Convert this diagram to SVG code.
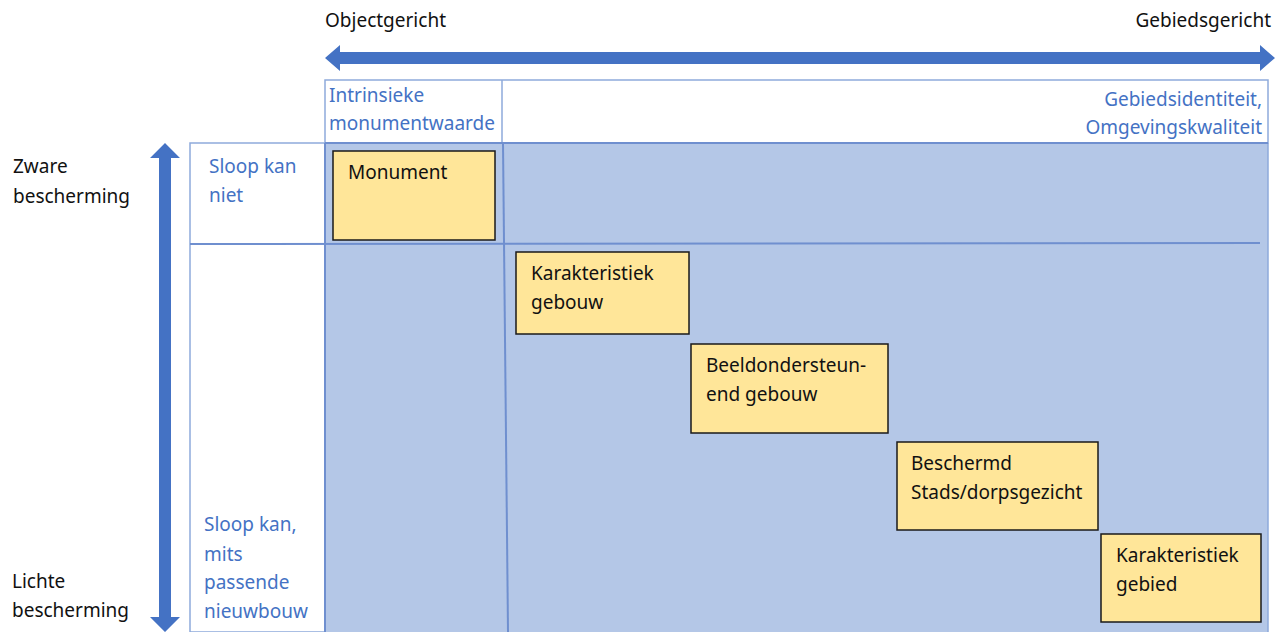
<svg xmlns="http://www.w3.org/2000/svg" width="1287" height="632" viewBox="0 0 1287 632">
<style>
text{font-family:"Noto Sans","Open Sans","Liberation Sans",sans-serif;font-size:19px}
.k{fill:#111}
.b{fill:#4472c4}
.box{fill:#ffe699;stroke:#1a1a1a;stroke-width:1.5}
.ln{stroke:#8eaadb;stroke-width:1.5;fill:none}
.dk{stroke:#6f8fcf;stroke-width:2;fill:none}
.arr{fill:#4472c4}
</style>
<g id="axes">
<path class="arr" d="M325,58 L340,45 L340,52 L1260,52 L1260,45 L1275,58 L1260,71 L1260,64 L340,64 L340,71 Z"/>
<path class="arr" d="M165,143 L180,158 L171,158 L171,617 L180,617 L165,632 L150,617 L159,617 L159,158 L150,158 Z"/>
<text class="k" x="325" y="27">Objectgericht</text>
<text class="k" x="1271" y="27" text-anchor="end">Gebiedsgericht</text>
<text class="k" x="13" y="173">Zware</text>
<text class="k" x="13" y="203">bescherming</text>
<text class="k" x="12" y="588">Lichte</text>
<text class="k" x="12" y="617">bescherming</text>
</g>
<g id="grid">
<rect x="325" y="143" width="943" height="489" fill="#b4c7e7"/>
<rect class="ln" x="325" y="80" width="943" height="63" fill="#fff"/>
<line class="ln" x1="502" y1="80" x2="502" y2="143"/>
<rect class="ln" x="190" y="143" width="135" height="489" fill="#fff"/>
<line class="ln" x1="1268" y1="143" x2="1268" y2="632"/>
<line class="dk" x1="325" y1="143" x2="1268" y2="143"/>
<line class="dk" x1="325" y1="143" x2="325" y2="632"/>
<line class="dk" x1="190" y1="244" x2="1260" y2="243"/>
<line class="dk" x1="503" y1="143" x2="508" y2="632"/>
<text class="b" x="329" y="102">Intrinsieke</text>
<text class="b" x="329" y="130">monumentwaarde</text>
<text class="b" x="1262" y="106" text-anchor="end">Gebiedsidentiteit,</text>
<text class="b" x="1262" y="134" text-anchor="end">Omgevingskwaliteit</text>
<text class="b" x="209" y="173">Sloop kan</text>
<text class="b" x="209" y="202">niet</text>
<text class="b" x="204" y="531">Sloop kan,</text>
<text class="b" x="204" y="561">mits</text>
<text class="b" x="204" y="589">passende</text>
<text class="b" x="204" y="618">nieuwbouw</text>
</g>
<g id="monument">
<rect class="box" x="333" y="151" width="162" height="89"/>
<text class="k" x="348" y="179">Monument</text>
</g>
<g id="karakteristiek-gebouw">
<rect class="box" x="516" y="252" width="173" height="82"/>
<text class="k" x="531" y="280">Karakteristiek</text>
<text class="k" x="531" y="309">gebouw</text>
</g>
<g id="beeldondersteunend-gebouw">
<rect class="box" x="691" y="344" width="197" height="89"/>
<text class="k" x="706" y="372">Beeldondersteun-</text>
<text class="k" x="706" y="401">end gebouw</text>
</g>
<g id="beschermd-gezicht">
<rect class="box" x="897" y="442" width="201" height="88"/>
<text class="k" x="911" y="470">Beschermd</text>
<text class="k" x="911" y="499">Stads/dorpsgezicht</text>
</g>
<g id="karakteristiek-gebied">
<rect class="box" x="1101" y="534" width="160" height="88"/>
<text class="k" x="1116" y="562">Karakteristiek</text>
<text class="k" x="1116" y="591">gebied</text>
</g>
</svg>
